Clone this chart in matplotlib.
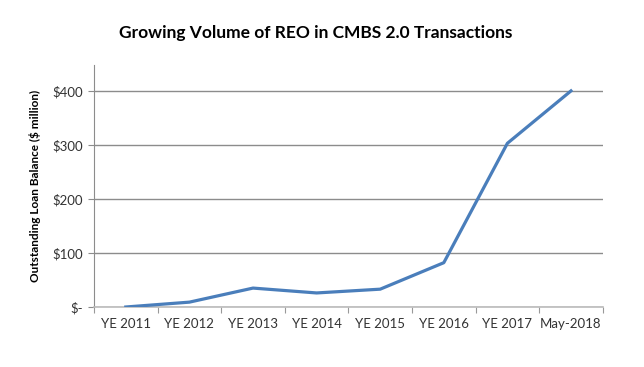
import numpy as np
import matplotlib
matplotlib.use("Agg")
import matplotlib.pyplot as plt
from matplotlib.ticker import FixedLocator, NullFormatter

categories = ["YE 2011", "YE 2012", "YE 2013", "YE 2014", "YE 2015", "YE 2016", "YE 2017", "May-2018"]
reo_balance = [0, 9, 35, 26, 33, 82, 303, 400]
y_ticks = [0, 100, 200, 300, 400]
y_tick_labels = ["$-", "$100", "$200", "$300", "$400"]

plt.rcParams["font.family"] = ["Lato", "DejaVu Sans"]

fig = plt.figure(figsize=(6.44, 3.67), dpi=100)
ax = fig.add_axes([0.146, 0.1635, 0.79, 0.6595])

x = np.arange(len(categories))
ax.plot(x, reo_balance, color="#4A7EBB", linewidth=2.3, solid_joinstyle="round", zorder=3)

ax.set_xlim(-0.5, len(categories) - 0.5)
ax.set_ylim(0, 448)

ax.set_yticks(y_ticks)
ax.set_yticklabels(y_tick_labels)
ax.yaxis.grid(True, color="#8c8c8c", linewidth=1.0)
ax.set_axisbelow(True)

ax.set_xticks(x)
ax.set_xticklabels(categories)
ax.tick_params(axis="x", which="major", length=0, pad=8, labelsize=9.5, colors="#333333")
ax.xaxis.set_minor_locator(FixedLocator(np.arange(-0.5, len(categories), 1.0)))
ax.xaxis.set_minor_formatter(NullFormatter())
ax.tick_params(axis="x", which="minor", length=4, color="#999999", width=0.8)
ax.tick_params(axis="y", length=4, color="#8c8c8c", labelsize=9.5, pad=4, labelcolor="#333333")

for side in ["top", "right"]:
    ax.spines[side].set_visible(False)
ax.spines["left"].set_color("#8c8c8c")
ax.spines["bottom"].set_color("#bbbbbb")
ax.spines["bottom"].set_linewidth(1.2)

ax.set_ylabel("Outstanding Loan Balance ($ million)", fontsize=8.5, fontweight="bold", labelpad=8)
fig.text(0.49, 0.91, "Growing Volume of REO in CMBS 2.0 Transactions",
         ha="center", va="center", fontsize=12.5, fontweight="bold")

fig.savefig("out.png", dpi=100)
